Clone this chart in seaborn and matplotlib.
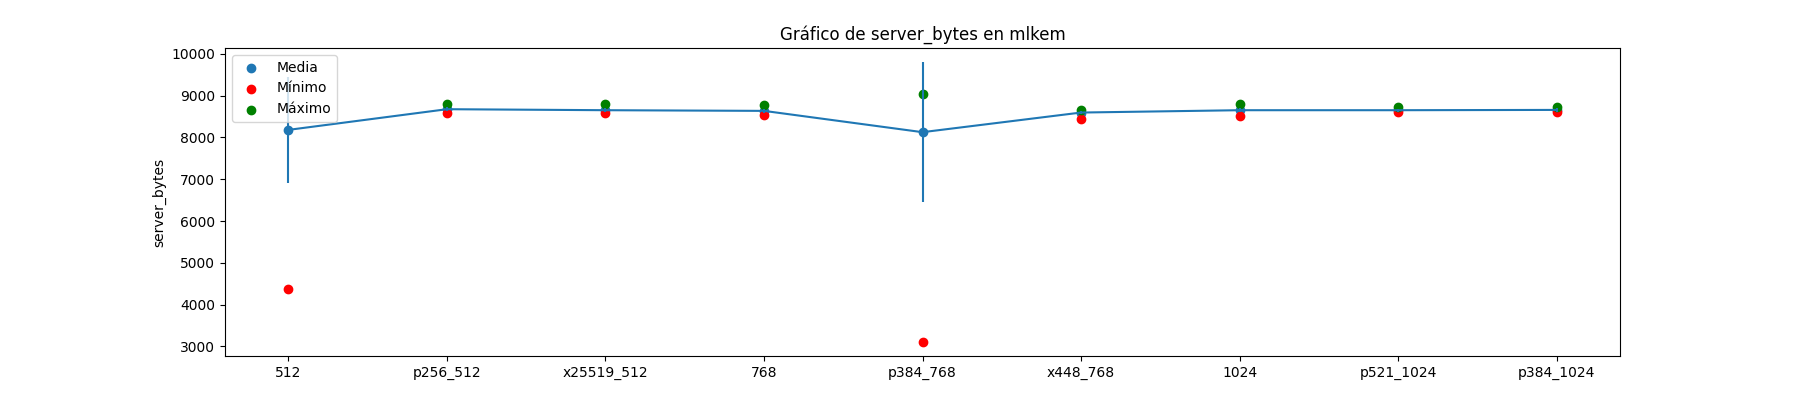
import numpy as np
import pandas as pd
import matplotlib
matplotlib.use("Agg")
import matplotlib.pyplot as plt
import seaborn as sns

categorias = ['512', 'p256_512', 'x25519_512', '768', 'p384_768',
              'x448_768', '1024', 'p521_1024', 'p384_1024']
media = [8182, 8677, 8653, 8637, 8127, 8597, 8653, 8653, 8660]
desvio = [1260, 50, 45, 50, 1680, 45, 50, 40, 40]
minimo = [4371, 8596, 8596, 8534, 3104, 8453, 8525, 8605, 8605]
# o máximo de 512 não aparece no gráfico (fica escondido)
maximo = [np.nan, 8797, 8797, 8773, 9043, 8660, 8804, 8732, 8732]

df = pd.DataFrame({'config': categorias, 'Media': media, 'Desvio': desvio,
                   'Minimo': minimo, 'Maximo': maximo})
df['pos'] = range(len(df))

plt.figure(figsize=(18, 4), dpi=100)
ax = plt.gca()

sns.scatterplot(data=df, x='pos', y='Media', color='#1f77b4', s=36,
                edgecolor='#1f77b4', linewidth=1, label='Media', ax=ax)
sns.scatterplot(data=df, x='pos', y='Minimo', color='red', s=36,
                edgecolor='red', linewidth=1, label='Mínimo', ax=ax)
sns.scatterplot(data=df, x='pos', y='Maximo', color='green', s=36,
                edgecolor='green', linewidth=1, label='Máximo', ax=ax)
ax.errorbar(df['pos'], df['Media'], yerr=df['Desvio'], fmt='-', color='#1f77b4')

ax.set_xticks(df['pos'])
ax.set_xticklabels(categorias)
plt.title('Gráfico de server_bytes en mlkem')
plt.xlabel('')
plt.ylabel('server_bytes')
plt.legend(loc='upper left')
plt.savefig('out.png')
